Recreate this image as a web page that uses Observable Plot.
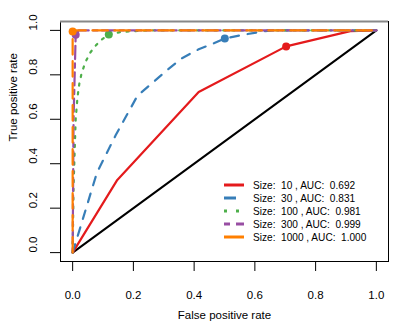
<!DOCTYPE html>
<html>
<head>
<meta charset="utf-8">
<script src="https://cdn.jsdelivr.net/npm/d3@7"></script>
<script src="https://cdn.jsdelivr.net/npm/@observablehq/plot@0.6"></script>
<style>
  html, body { margin: 0; padding: 0; background: white; }
  #chart { position: relative; width: 409px; height: 327px; }
</style>
</head>
<body>
<div id="chart"></div>
<script>
// ---- data ----
const sizes = [10, 30, 100, 300, 1000];
const aucs = ["0.692", "0.831", "0.981", "0.999", "1.000"];
const colors = ["#E41A1C", "#377EB8", "#4DAF4A", "#984EA3", "#FF7F00"];
const ltys = ["solid", "dashed", "dotted", "twodash", "longdash"];

const fpr10 = [0, 0.147, 0.415, 0.703, 0.914, 1];
const tpr10 = [0, 0.327, 0.723, 0.928, 0.997, 1];

const fpr30 = [0, 0.08, 0.142, 0.213, 0.317, 0.36, 0.415, 0.465, 0.501, 0.569, 0.629, 0.66, 1];
const tpr30 = [0, 0.36, 0.529, 0.705, 0.828, 0.875, 0.915, 0.942, 0.964, 0.982, 0.996, 1, 1];

const fpr100 = [0, 0.003, 0.01, 0.016, 0.022, 0.03, 0.043, 0.058, 0.075, 0.092, 0.119, 0.16, 0.25, 1];
const tpr100 = [0, 0.3, 0.6, 0.7, 0.76, 0.81, 0.86, 0.9, 0.93, 0.955, 0.982, 0.993, 1, 1];

const fpr300 = [0, 0.003, 0.01, 0.02, 1];
const tpr300 = [0, 0.6, 0.98, 1, 1];

const fpr1000 = [0, 0, 1];
const tpr1000 = [0, 1, 1];

const cutX = [0.703, 0.501, 0.119, 0.01, 0];
const cutY = [0.928, 0.964, 0.982, 0.98, 0.995];

const diagX = [0, 1];
const diagY = [0, 1];

const xTicks = [0, 0.2, 0.4, 0.6, 0.8, 1.0];
const yTicks = [0, 0.2, 0.4, 0.6, 0.8, 1.0];
const xDomain = [-0.04, 1.04];
const yDomain = [-0.04, 1.04];

// ---- build ----
const fprs = [fpr10, fpr30, fpr100, fpr300, fpr1000];
const tprs = [tpr10, tpr30, tpr100, tpr300, tpr1000];

function dashFor(lty, w) {
  switch (lty) {
    case "dashed": return [4 * w, 4 * w].join(",");
    case "dotted": return [w, 3 * w].join(",");
    case "twodash": return [2 * w, 2 * w, 6 * w, 2 * w].join(",");
    case "longdash": return [7 * w, 3 * w].join(",");
    default: return null;
  }
}

const LW = 2.2;
const seriesMarks = [];
sizes.forEach((s, i) => {
  const rows = fprs[i].map((f, j) => ({ fpr: f, tpr: tprs[i][j] }));
  const opts = { x: "fpr", y: "tpr", stroke: colors[i], strokeWidth: LW };
  const da = dashFor(ltys[i], LW);
  if (da) opts.strokeDasharray = da;
  seriesMarks.push(Plot.line(rows, opts));
  seriesMarks.push(Plot.dot([{ fpr: cutX[i], tpr: cutY[i] }], { x: "fpr", y: "tpr", r: 4, fill: colors[i], stroke: "none" }));
});

const diagRows = diagX.map((x, i) => ({ x, y: diagY[i] }));

const svg = Plot.plot({
  width: 409,
  height: 327,
  marginLeft: 60,
  marginRight: 21,
  marginTop: 21,
  marginBottom: 66,
  x: { domain: xDomain },
  y: { domain: yDomain },
  style: { fontFamily: "'Liberation Sans', Arial, sans-serif", fontSize: "11.5px", background: "white", color: "black" },
  marks: [
    Plot.line(diagRows, { x: "x", y: "y", stroke: "black", strokeWidth: 2 }),
    ...seriesMarks,
    Plot.frame({ stroke: "black" }),
    Plot.ruleY([yDomain[1]], { stroke: "#888", strokeWidth: 2 }),
    Plot.axisX(xTicks, { tickSize: 10, tickPadding: 19, tickFormat: d => d.toFixed(1), label: null, fontSize: 11.5 }),
    Plot.axisY(yTicks, { tickSize: 10, tickFormat: () => "", label: null }),
    Plot.text(yTicks, { y: d => d, text: d => d.toFixed(1), frameAnchor: "left", dx: -27, rotate: -90, fontSize: 11.5 }),
    Plot.text(["True positive rate"], { text: d => d, frameAnchor: "left", dx: -47, rotate: -90, fontSize: 11.5 }),
    Plot.text(["False positive rate"], { text: d => d, frameAnchor: "bottom", dy: 57, fontSize: 11.5 })
  ]
});

// ---- legend ----
const LL = 3;
const NB = "\u00a0";
const g = d3.select(svg).append("g")
  .attr("font-family", "'Liberation Sans', Arial, sans-serif")
  .attr("font-size", 10.1)
  .attr("text-anchor", "start");
sizes.forEach((s, i) => {
  const y = 185 + i * 13;
  const ln = g.append("line")
    .attr("x1", 224).attr("x2", 244).attr("y1", y).attr("y2", y)
    .attr("stroke", colors[i]).attr("stroke-width", LL);
  const da = dashFor(ltys[i], LL);
  if (da) ln.attr("stroke-dasharray", da);
  g.append("text")
    .attr("x", 253).attr("y", y).attr("dy", "0.35em")
    .attr("text-anchor", "start")
    .attr("fill", "black")
    .text(`Size:${NB} ${s} , AUC:${NB} ${aucs[i]}`);
});

document.getElementById("chart").appendChild(svg);
</script>
</body>
</html>
